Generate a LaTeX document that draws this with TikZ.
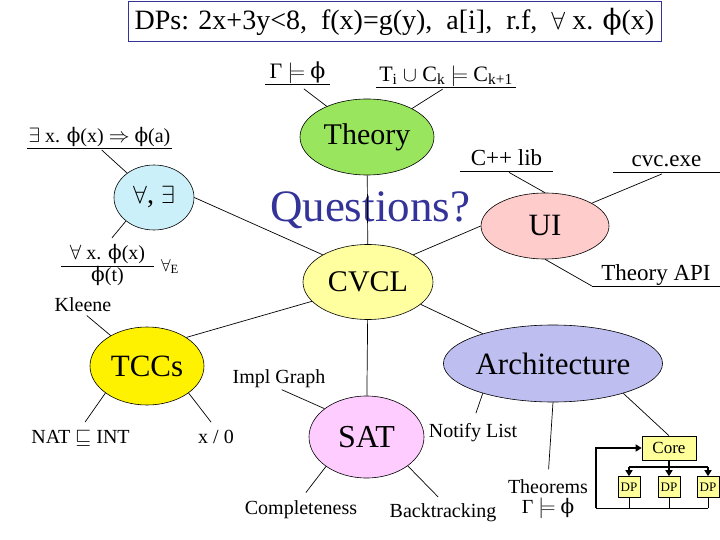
\documentclass[tikz,border=0pt]{standalone}
\usepackage{fontspec}
\setmainfont{Liberation Serif}
\newfontfamily\phifont{DejaVu Serif}
\usepackage{tikz}
\usetikzlibrary{arrows.meta,shapes.geometric}
\definecolor{QBlue}{RGB}{51,51,153}
\definecolor{TGreen}{RGB}{153,230,94}
\definecolor{QCyan}{RGB}{204,240,250}
\definecolor{CYellow}{RGB}{255,255,160}
\definecolor{UPink}{RGB}{255,204,204}
\definecolor{SPink}{RGB}{255,204,255}
\definecolor{ALilac}{RGB}{190,190,240}
\definecolor{BoxYellow}{RGB}{255,255,153}
\newcommand{\txtsize}[1]{\fontsize{#1}{#1}\selectfont}
\newcommand{\vphi}{{\phifont ϕ}}

\tikzset{
  bubble/.style={ellipse, draw, line width=0.6pt, inner sep=0pt},
  note/.style={inner sep=1pt, font={\txtsize{20}}},
  uline/.style={note, anchor=south, text depth=4pt, inner ysep=1.5pt},
  link/.style={line width=0.7pt},
  bus/.style={line width=2pt},
  busarrow/.style={bus, -{Triangle[length=6pt,width=7pt]}},
  smallbox/.style={draw, line width=0.6pt, fill=BoxYellow, inner sep=0pt}
}

\begin{document}
\begin{tikzpicture}[x=1pt,y=-1pt]
  \useasboundingbox (0,0) rectangle (720,540);

  % title
  \node[draw=QBlue, line width=1pt, minimum width=533pt, minimum height=40pt,
    font={\txtsize{28}}] (dps) at (394.5,22)
    {DPs: 2x+3y<8,~ f(x)=g(y),~ a[i],~ r.f,~ $\forall$ x. \vphi(x)};

  \node[font={\txtsize{45}}, text=QBlue, anchor=base, inner sep=0pt] (qst) at (370,222) {Questions?};

  % bubbles
  \node[bubble, fill=TGreen, minimum width=134pt, minimum height=76pt, font={\txtsize{30}}] (thy) at (367,137) {Theory};
  \node[bubble, fill=QCyan, minimum width=80pt, minimum height=65pt, font={\txtsize{28}}] (qnt) at (154,197.5) {$\forall$, $\exists$};
  \node[bubble, fill=CYellow, minimum width=130pt, minimum height=75pt, font={\txtsize{30}}] (cvcl) at (368,282) {CVCL};
  \node[bubble, fill=UPink, minimum width=128pt, minimum height=66pt, font={\txtsize{31}}] (ui) at (545,226) {UI};
  \node[bubble, fill=yellow, minimum width=114pt, minimum height=78pt, font={\txtsize{31}}] (tcc) at (147,366) {TCCs};
  \node[bubble, fill=SPink, minimum width=115pt, minimum height=82pt, font={\txtsize{32}}] (sat) at (366.5,437) {SAT};
  \node[bubble, fill=ALilac, minimum width=186pt, minimum height=77pt, font={\txtsize{31}}] (arch) at (553,363.5) {Architecture};

  % underlined labels
  \node[uline, minimum width=65pt, font={\txtsize{22}}] (gam) at (297.5,84) {Γ $\models$ \vphi};
  \node[uline, minimum width=140pt, font={\txtsize{22}}] (ti) at (446,87)
    {T\textsubscript{i} $\cup$ C\textsubscript{k} $\models$ C\textsubscript{k+1}};
  \node[uline, minimum width=141pt] (ex) at (99.5,148) {$\exists$ x. \vphi(x) $\Rightarrow$ \vphi(a)};
  \node[uline, minimum width=93pt, font={\txtsize{23}}] (cpp) at (506.5,171) {C++ lib};
  \node[uline, minimum width=107pt, font={\txtsize{23}}] (cvc) at (666.5,172) {cvc.exe};
  \node[uline, minimum width=128pt, font={\txtsize{23}}] (api) at (656,286) {Theory API};
  \foreach \n in {gam,ti,ex,cpp,cvc,api}
    \draw[link] (\n.south west) -- (\n.south east);

  % plain labels
  \node[note] (frac) at (107.5,266)
    {\setlength\arrayrulewidth{0.7pt}\begin{tabular}{@{\hspace{9pt}}c@{\hspace{9pt}}}
      $\forall$ x. \vphi(x)\\ \hline \vphi(t)\end{tabular}};
  \node[note, font={\txtsize{18}}, anchor=base] (fe) at (170,271) {$\forall$\textsubscript{E}};
  \node[note, anchor=base] (kln) at (83,311) {Kleene};
  \node[note, anchor=base] (nat) at (80.5,443) {NAT $\sqsubseteq$ INT};
  \node[note, anchor=base] (xz) at (216,443) {x / 0};
  \node[note, anchor=base] (igr) at (279,383) {Impl Graph};
  \node[note, anchor=base] (cmp) at (301,514) {Completeness};
  \node[note, anchor=base] (ntf) at (473,437) {Notify List};
  \node[note, anchor=base] (btr) at (443,517) {Backtracking};
  \node[note, align=center] (thm) at (548,499) {Theorems\\Γ $\models$ \vphi};

  % core and decision procedures
  \node[smallbox, minimum width=54pt, minimum height=24pt, font={\txtsize{17}}] (core) at (669,448) {Core};
  \node[smallbox, minimum width=22pt, minimum height=21pt, font={\txtsize{13}}] (dp1) at (629,487) {DP};
  \node[smallbox, minimum width=22pt, minimum height=21pt, font={\txtsize{13}}] (dp2) at (669,487) {DP};
  \node[smallbox, minimum width=22pt, minimum height=21pt, font={\txtsize{13}}] (dp3) at (708,487) {DP};

  % connectors
  \draw[link] (thy) -- (cvcl);
  \draw[link] (cvcl) -- (sat);
  \draw[link, shorten <=8pt] (gam.south) -- (thy);
  \draw[link, shorten <=4pt] (ti.south) -- (thy);
  \draw[link, shorten <=3pt] (ex.south) -- (qnt);
  \draw[link] (qnt.east) -- (cvcl.149);
  \draw[link, shorten >=7pt] (qnt.220) -- (frac.north);
  \draw[link, shorten <=5pt] (kln.south) -- (tcc);
  \draw[link] (cvcl.31) -- (ui.west);
  \draw[link, shorten <=3pt] (cpp.south) -- (ui.north);
  \draw[link, shorten <=5pt] (cvc.south) -- (ui.26);
  \draw[link] (ui.south) -- (api.south west);
  \draw[link] (cvcl.199) -- (tcc.36);
  \draw[link] (cvcl.-23) -- (arch.157);
  \draw[link, shorten >=8pt] (tcc.213) -- (nat.north);
  \draw[link, shorten >=8pt] (tcc.-33) -- (xz.north);
  \draw[link, shorten <=3pt] (igr.south) -- (sat.146);
  \draw[link, shorten >=8pt] (sat.216) -- (cmp.north);
  \draw[link, shorten >=7pt] (sat.-35) -- (btr.north);
  \draw[link, shorten >=9pt] (arch.203) -- (ntf.north);
  \draw[link, shorten >=9pt] (arch.south) -- (thm.north);
  \draw[link] (arch.-23) -- (core.north);

  % bus from core to DPs
  \path (core.south) ++(0,7) coordinate (bar);
  \draw[bus] (dp1.north |- bar) -- (dp3.north |- bar);
  \draw[busarrow] (core.south) -- (dp2.north);
  \draw[busarrow] (dp1.north |- bar) -- (dp1.north);
  \draw[busarrow] (dp3.north |- bar) -- (dp3.north);

  % feedback loop
  \coordinate (loop) at (596,508);
  \foreach \d in {dp1,dp2,dp3}
    \draw[link] (\d.south) -- (\d.south |- loop);
  \draw[link] (loop) -- (dp3.south |- loop);
  \draw[busarrow] (loop) -- (loop |- core.west) -- (core.west);
\end{tikzpicture}
\end{document}
